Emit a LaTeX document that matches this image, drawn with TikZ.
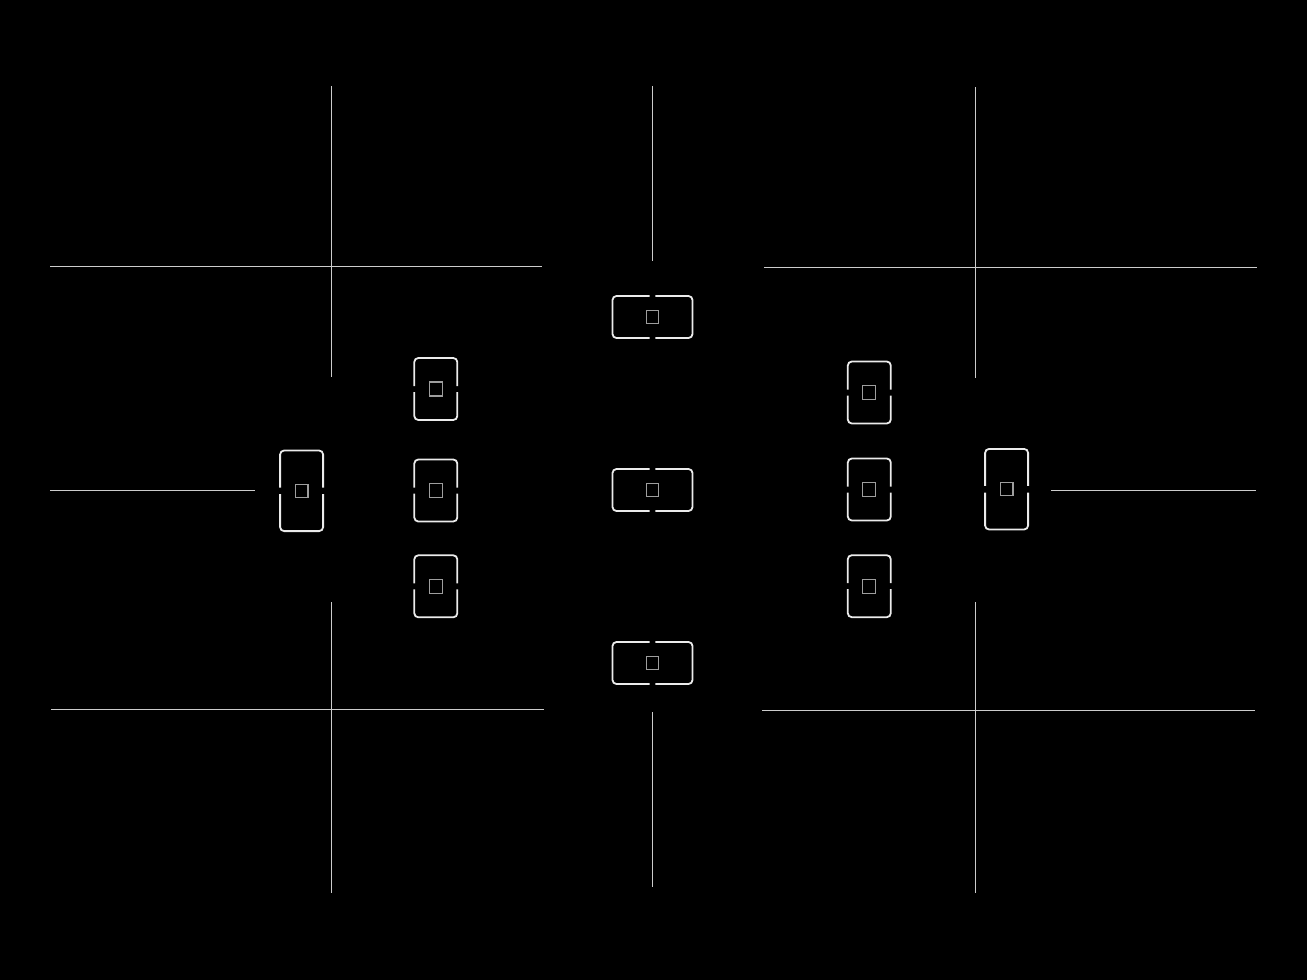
\documentclass[tikz,border=0pt]{standalone}
\begin{document}
\begin{tikzpicture}[x=1pt,y=-1pt,
  grid/.style={draw=white!80!black,line width=1pt},
  frame/.style={draw=white!92!black,line width=1.8pt,rounded corners=4pt},
  spot/.style={draw=white!62!black,line width=1.2pt},
  hfp/.pic={
    \draw[frame] (-2.8,-21) -- (-40,-21) -- (-40,21) -- (-2.8,21);
    \draw[frame] (2.8,-21) -- (40,-21) -- (40,21) -- (2.8,21);
    \draw[spot] (-6.3,-6.3) rectangle (6.3,6.3);
  },
  vsfp/.pic={
    \draw[frame] (-21.5,-3) -- (-21.5,-31) -- (21.5,-31) -- (21.5,-3);
    \draw[frame] (-21.5,3) -- (-21.5,31) -- (21.5,31) -- (21.5,3);
    \draw[spot] (-6.5,-7) rectangle (6.5,7);
  },
  vbfp/.pic={
    \draw[frame] (-21.5,-3.3) -- (-21.5,-40.3) -- (21.5,-40.3) -- (21.5,-3.3);
    \draw[frame] (-21.5,3.3) -- (-21.5,40.3) -- (21.5,40.3) -- (21.5,3.3);
    \draw[spot] (-6.4,-6.4) rectangle (6.4,6.4);
  }]
\fill[black] (0,0) rectangle (1307,980);
\useasboundingbox (0,0) rectangle (1307,980);

% grid lines
\coordinate (tlh1) at (50,266.5);  \coordinate (tlh2) at (542,266.5);
\coordinate (tlv1) at (331,86);    \coordinate (tlv2) at (331,377);
\coordinate (trh1) at (764,267);   \coordinate (trh2) at (1257,267);
\coordinate (trv1) at (975,87);    \coordinate (trv2) at (975,378);
\coordinate (blh1) at (51,709.5);  \coordinate (blh2) at (544,709.5);
\coordinate (blv1) at (331,602);   \coordinate (blv2) at (331,893);
\coordinate (brh1) at (762,710);   \coordinate (brh2) at (1255,710);
\coordinate (brv1) at (975,602);   \coordinate (brv2) at (975,893);
\coordinate (ctv1) at (652.5,86);  \coordinate (ctv2) at (652.5,261);
\coordinate (cbv1) at (652.5,712); \coordinate (cbv2) at (652.5,887);
\coordinate (lmh1) at (50,490);    \coordinate (lmh2) at (255,490);
\coordinate (rmh1) at (1051,490.5);\coordinate (rmh2) at (1256,490.5);

\draw[grid] (tlh1) -- (tlh2);
\draw[grid] (tlv1) -- (tlv2);
\draw[grid] (trh1) -- (trh2);
\draw[grid] (trv1) -- (trv2);
\draw[grid] (blh1) -- (blh2);
\draw[grid] (blv1) -- (blv2);
\draw[grid] (brh1) -- (brh2);
\draw[grid] (brv1) -- (brv2);
\draw[grid] (ctv1) -- (ctv2);
\draw[grid] (cbv1) -- (cbv2);
\draw[grid] (lmh1) -- (lmh2);
\draw[grid] (rmh1) -- (rmh2);

% focus points
\pic at (652.5,317) {hfp};
\pic at (652.5,490) {hfp};
\pic at (652.5,663) {hfp};

\pic at (435.8,389) {vsfp};
\pic at (435.8,490.5) {vsfp};
\pic at (435.8,586.3) {vsfp};

\pic at (869.3,392.5) {vsfp};
\pic at (869.3,489.5) {vsfp};
\pic at (869.3,586.2) {vsfp};

\pic at (301.6,490.8) {vbfp};
\pic at (1006.6,489.2) {vbfp};
\end{tikzpicture}
\end{document}
